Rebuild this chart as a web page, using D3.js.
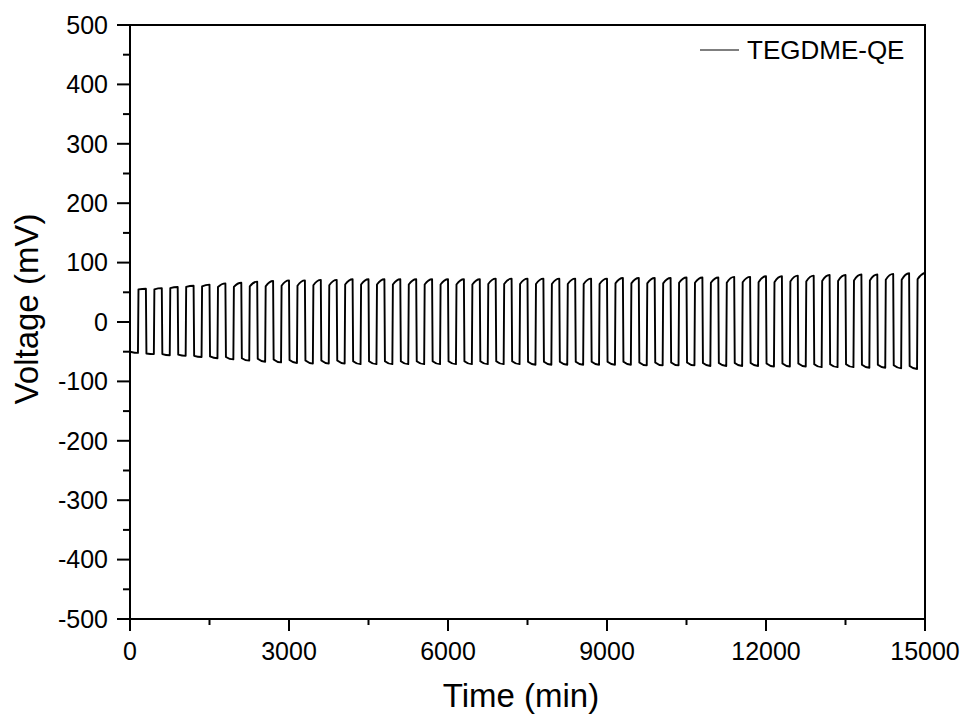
<!DOCTYPE html>
<html>
<head>
<meta charset="utf-8">
<script src="https://cdn.jsdelivr.net/npm/d3@7"></script>
<style>
  body { margin: 0; background: #fff; }
  svg { display: block; font-family: "Liberation Sans", Arial, sans-serif; }
</style>
</head>
<body>
<svg id="ch" width="968" height="715"></svg>
<script>
// galvanostatic cycling, 150 min per half cycle, 50 cycles (neg half first, then pos half)
const halfMin = 150;
const posStart = [55,55,57,59,60,59,59,60,60,61, 61,62,62,63,63,63,63,63,63,63, 63,63,64,64,64,64,64,64,64,64, 65,65,65,65,66,66,66,66,67,67, 67,68,68,69,69,70,70,71,71,72];
const posEnd = [56,57,59,61,63,65,66,68,69,70, 70,71,71,72,72,72,72,72,72,72, 72,72,73,73,73,73,73,73,73,73, 74,74,74,74,75,75,75,76,76,77, 77,78,78,79,79,80,80,81,82,83];
const negStart = [-50,-53,-54,-55,-57,-58,-59,-61,-62,-63, -64,-65,-65,-65,-66,-66,-66,-66,-66,-66, -66,-66,-66,-66,-66,-67,-67,-67,-67,-67, -67,-67,-68,-68,-68,-68,-69,-69,-69,-69, -70,-70,-70,-71,-71,-71,-72,-72,-73,-74];
const negEnd = [-52,-54,-56,-57,-59,-61,-63,-65,-67,-68, -69,-70,-70,-70,-71,-71,-71,-71,-71,-71, -71,-71,-71,-71,-71,-72,-72,-72,-72,-72, -72,-72,-73,-73,-73,-73,-74,-74,-74,-74, -75,-75,-75,-76,-76,-76,-77,-77,-78,-79];
const xTicks = [0, 3000, 6000, 9000, 12000, 15000];
const yTicks = [-500, -400, -300, -200, -100, 0, 100, 200, 300, 400, 500];
const seriesName = "TEGDME-QE";

const m = { l: 130, r: 925, t: 25, b: 619 };
const svg = d3.select("#ch");
const x = d3.scaleLinear().domain([0, 15000]).range([m.l, m.r]);
const y = d3.scaleLinear().domain([-500, 500]).range([m.b, m.t]);

// build trace points from per-half-cycle values
const pts = [];
posStart.forEach((_, i) => {
  const t0 = i * 2 * halfMin;
  pts.push([t0 + (i === 0 ? 0 : 10), negStart[i]]);
  pts.push([t0 + halfMin, negEnd[i]]);
  pts.push([t0 + halfMin + 10, posStart[i]]);
  pts.push([t0 + 2 * halfMin, posEnd[i]]);
});

const line = d3.line().x(d => x(d[0])).y(d => y(d[1])).curve(d3.curveMonotoneX);
svg.append("path").datum(pts).attr("d", line)
  .attr("fill", "none").attr("stroke", "#000").attr("stroke-width", 1.9).attr("stroke-linejoin", "round");

// axes
const xMinor = d3.range(1500, 15000, 3000);
const yMinor = d3.range(-450, 500, 100);
const ax = svg.append("g").attr("stroke", "#000").attr("stroke-width", 2);
ax.selectAll(".xt").data(xTicks).enter().append("line")
  .attr("x1", d => x(d)).attr("x2", d => x(d)).attr("y1", m.b).attr("y2", m.b + 12);
ax.selectAll(".xm").data(xMinor).enter().append("line")
  .attr("x1", d => x(d)).attr("x2", d => x(d)).attr("y1", m.b).attr("y2", m.b + 6);
ax.selectAll(".yt").data(yTicks).enter().append("line")
  .attr("y1", d => y(d)).attr("y2", d => y(d)).attr("x1", m.l).attr("x2", m.l - 13);
ax.selectAll(".ym").data(yMinor).enter().append("line")
  .attr("y1", d => y(d)).attr("y2", d => y(d)).attr("x1", m.l).attr("x2", m.l - 7);
ax.append("rect").attr("x", m.l).attr("y", m.t).attr("width", m.r - m.l).attr("height", m.b - m.t)
  .attr("fill", "none");

svg.append("g").selectAll("text").data(xTicks).enter().append("text")
  .attr("x", d => x(d)).attr("y", 660).attr("text-anchor", "middle")
  .attr("font-size", 25).text(d => d);
svg.append("g").selectAll("text").data(yTicks).enter().append("text")
  .attr("x", 108).attr("y", d => y(d)).attr("dy", "0.35em").attr("text-anchor", "end")
  .attr("font-size", 25).text(d => d);

svg.append("text").attr("x", 521).attr("y", 707).attr("text-anchor", "middle")
  .attr("font-size", 33).text("Time (min)");
svg.append("text").attr("transform", "translate(38,309) rotate(-90)").attr("text-anchor", "middle")
  .attr("font-size", 33).text("Voltage (mV)");

// legend
svg.append("line").attr("x1", 700).attr("x2", 739).attr("y1", 50).attr("y2", 50)
  .attr("stroke", "#000").attr("stroke-width", 1.2);
svg.append("text").attr("x", 747).attr("y", 59).attr("font-size", 26).text(seriesName);
</script>
</body>
</html>
